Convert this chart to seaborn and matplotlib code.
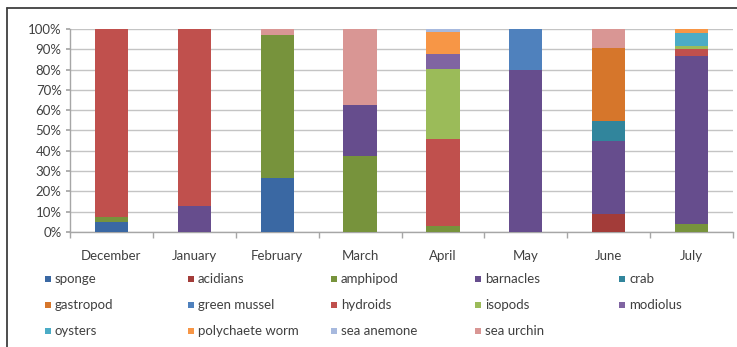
import matplotlib
matplotlib.use("Agg")
import matplotlib.pyplot as plt
from matplotlib.patches import Rectangle
from matplotlib.lines import Line2D
from matplotlib.ticker import MultipleLocator, PercentFormatter, FixedLocator
import numpy as np
import pandas as pd
import seaborn as sns

months = ["December", "January", "February", "March", "April", "May", "June", "July"]

taxa = ["sponge", "acidians", "amphipod", "barnacles", "crab", "gastropod",
        "green mussel", "hydroids", "isopods", "modiolus", "oysters",
        "polychaete worm", "sea anemone", "sea urchin"]

colors = ["#3A68A3", "#A33C39", "#77933C", "#664D8D", "#31859C", "#D6762B",
          "#4F81BD", "#C0504D", "#9BBB59", "#8064A2", "#4BACC6",
          "#F79646", "#A7B9DE", "#D99694"]

# Percentage composition per month (each column sums to 100)
sponge          = [4.8, 0.0, 26.5, 0.0, 0.0, 0.0, 0.0, 0.0]
acidians        = [0.0, 0.0, 0.0, 0.0, 0.0, 0.0, 9.0, 0.0]
amphipod        = [2.7, 0.0, 70.4, 37.5, 2.9, 0.0, 0.0, 3.7]
barnacles       = [0.0, 12.7, 0.0, 25.0, 0.0, 80.0, 35.8, 83.2]
crab            = [0.0, 0.0, 0.0, 0.0, 0.0, 0.0, 9.8, 0.0]
gastropod       = [0.0, 0.0, 0.0, 0.0, 0.0, 0.0, 36.0, 0.0]
green_mussel    = [0.0, 0.0, 0.0, 0.0, 0.0, 20.0, 0.0, 0.0]
hydroids        = [92.5, 87.3, 0.0, 0.0, 42.7, 0.0, 0.0, 3.3]
isopods         = [0.0, 0.0, 0.0, 0.0, 34.5, 0.0, 0.0, 1.6]
modiolus        = [0.0, 0.0, 0.0, 0.0, 7.6, 0.0, 0.0, 0.0]
oysters         = [0.0, 0.0, 0.0, 0.0, 0.0, 0.0, 0.0, 6.3]
polychaete_worm = [0.0, 0.0, 0.0, 0.0, 11.0, 0.0, 0.0, 1.9]
sea_anemone     = [0.0, 0.0, 0.0, 0.0, 1.3, 0.0, 0.0, 0.0]
sea_urchin      = [0.0, 0.0, 3.1, 37.5, 0.0, 0.0, 9.4, 0.0]

series = [sponge, acidians, amphipod, barnacles, crab, gastropod, green_mussel,
          hydroids, isopods, modiolus, oysters, polychaete_worm, sea_anemone,
          sea_urchin]

values = np.array(series, dtype=float)
cumulative = np.cumsum(values, axis=0)

sns.set_theme(style="white")
plt.rcParams["font.family"] = ["Lato", "DejaVu Sans"]

W, H = 737, 347
fig = plt.figure(figsize=(W / 100, H / 100), dpi=100)
ax = fig.add_axes([70 / W, 1 - 232 / H, 663 / W, 203 / H])

# Stacked bars: draw cumulative totals from the top layer down so each
# lower layer paints over the one above it.
for i in range(len(taxa) - 1, -1, -1):
    df = pd.DataFrame({"month": months, "top": cumulative[i] / 100.0})
    sns.barplot(data=df, x="month", y="top", order=months, color=colors[i],
                width=0.4, errorbar=None, saturation=1, ax=ax, zorder=3,
                linewidth=0, edgecolor="none")

ax.set_xlim(-0.5, len(months) - 0.5)
ax.set_ylim(0, 1.0)
ax.yaxis.set_major_locator(MultipleLocator(0.1))
ax.yaxis.set_major_formatter(PercentFormatter(1.0, decimals=0))
ax.grid(axis="y", color="#C4C4C4", linewidth=1.0, zorder=0)
ax.set_axisbelow(True)
ax.set_xlabel("")
ax.set_ylabel("")

for side in ["top", "right"]:
    ax.spines[side].set_visible(False)
for side in ["left", "bottom"]:
    ax.spines[side].set_color("#A6A6A6")
    ax.spines[side].set_linewidth(1.0)

ax.tick_params(axis="y", which="major", length=3, color="#A6A6A6",
               labelsize=9.5, labelcolor="#404040", pad=3, left=True)
ax.tick_params(axis="x", which="major", length=0, labelsize=9.5,
               labelcolor="#404040", pad=13)
ax.xaxis.set_minor_locator(FixedLocator(np.arange(-0.5, len(months), 1.0)))
ax.tick_params(axis="x", which="minor", length=4, color="#A6A6A6", bottom=True)

# Legend entries placed on a fixed five-column grid, filled row by row
col_x = [45, 188, 331, 475, 619]
row_y = [279, 305, 331]
sq = 6
for k, (name, col) in enumerate(zip(taxa, colors)):
    r, c = divmod(k, 5)
    x0, yc = col_x[c], row_y[r]
    fig.add_artist(Rectangle((x0 / W, 1 - (yc + sq / 2) / H), sq / W, sq / H,
                             transform=fig.transFigure, facecolor=col,
                             edgecolor="none"))
    fig.text((x0 + sq + 4) / W, 1 - yc / H, name, fontsize=9.5,
             color="#404040", va="center", ha="left")

# Outer frame lines along the top and left edges
fig.add_artist(Line2D([7 / W, 1.0], [1 - 8 / H, 1 - 8 / H],
                      transform=fig.transFigure, color="#3F3F3F", linewidth=1.3))
fig.add_artist(Line2D([7 / W, 7 / W], [0.0, 1 - 8 / H],
                      transform=fig.transFigure, color="#3F3F3F", linewidth=1.3))

fig.savefig("out.png", dpi=100)
